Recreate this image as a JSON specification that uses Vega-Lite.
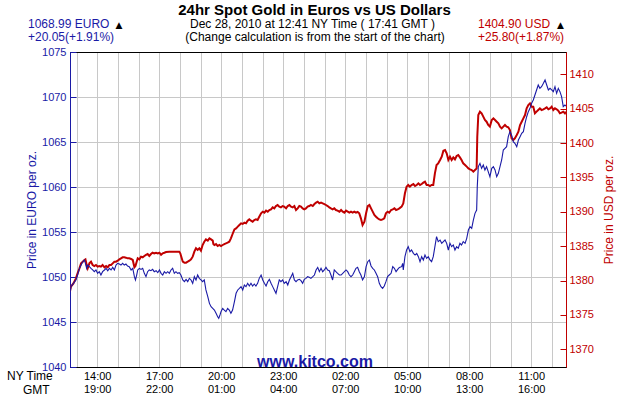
{
  "$schema": "https://vega.github.io/schema/vega-lite/v6.json",
  "width": 496,
  "height": 315,
  "autosize": {"type": "none"},
  "padding": {"left": 70, "top": 52, "right": 64, "bottom": 33},
  "background": "white",
  "config": {"font": "Liberation Sans", "view": {"stroke": "black", "strokeWidth": 1}},
  "datasets": {
    "eur": [
      {"t": 12.68, "price": 1048.2}, {"t": 12.73, "price": 1048.93}, {"t": 12.85, "price": 1049.3}, {"t": 12.97, "price": 1049.67},
      {"t": 13.05, "price": 1050.22}, {"t": 13.14, "price": 1050.96}, {"t": 13.22, "price": 1051.33}, {"t": 13.3, "price": 1051.7},
      {"t": 13.38, "price": 1051.89}, {"t": 13.43, "price": 1051.52}, {"t": 13.49, "price": 1050.96}, {"t": 13.54, "price": 1051.33},
      {"t": 13.62, "price": 1051.15}, {"t": 13.7, "price": 1050.96}, {"t": 13.78, "price": 1050.78}, {"t": 13.86, "price": 1050.59},
      {"t": 13.94, "price": 1050.78}, {"t": 14.02, "price": 1050.41}, {"t": 14.1, "price": 1050.59}, {"t": 14.18, "price": 1050.22},
      {"t": 14.26, "price": 1050.59}, {"t": 14.35, "price": 1050.78}, {"t": 14.43, "price": 1050.96}, {"t": 14.51, "price": 1050.7},
      {"t": 14.59, "price": 1050.96}, {"t": 14.67, "price": 1050.78}, {"t": 14.75, "price": 1051.07}, {"t": 14.83, "price": 1050.78},
      {"t": 14.91, "price": 1051.33}, {"t": 14.99, "price": 1051.52}, {"t": 15.07, "price": 1051.44}, {"t": 15.15, "price": 1051.33},
      {"t": 15.23, "price": 1051.52}, {"t": 15.31, "price": 1051.33}, {"t": 15.39, "price": 1051.44}, {"t": 15.47, "price": 1051.22},
      {"t": 15.55, "price": 1051.15}, {"t": 15.64, "price": 1050.78}, {"t": 15.72, "price": 1050.96}, {"t": 15.8, "price": 1050.04},
      {"t": 15.85, "price": 1049.67}, {"t": 15.91, "price": 1050.22}, {"t": 15.96, "price": 1050.78}, {"t": 16.04, "price": 1050.96},
      {"t": 16.12, "price": 1050.85}, {"t": 16.2, "price": 1050.96}, {"t": 16.28, "price": 1050.41}, {"t": 16.36, "price": 1050.04},
      {"t": 16.44, "price": 1050.59}, {"t": 16.52, "price": 1050.78}, {"t": 16.6, "price": 1050.7}, {"t": 16.68, "price": 1050.85},
      {"t": 16.76, "price": 1050.59}, {"t": 16.85, "price": 1050.7}, {"t": 16.93, "price": 1050.48}, {"t": 17.01, "price": 1050.78},
      {"t": 17.09, "price": 1050.41}, {"t": 17.17, "price": 1050.22}, {"t": 17.25, "price": 1050.59}, {"t": 17.33, "price": 1050.41},
      {"t": 17.41, "price": 1050.59}, {"t": 17.49, "price": 1050.41}, {"t": 17.57, "price": 1050.78}, {"t": 17.65, "price": 1050.96},
      {"t": 17.73, "price": 1050.41}, {"t": 17.81, "price": 1050.59}, {"t": 17.89, "price": 1050.41}, {"t": 17.97, "price": 1050.48},
      {"t": 18.05, "price": 1050.22}, {"t": 18.14, "price": 1049.67}, {"t": 18.22, "price": 1049.48}, {"t": 18.3, "price": 1049.74},
      {"t": 18.38, "price": 1049.48}, {"t": 18.46, "price": 1049.85}, {"t": 18.54, "price": 1049.67}, {"t": 18.62, "price": 1049.3},
      {"t": 18.7, "price": 1050.04}, {"t": 18.78, "price": 1049.67}, {"t": 18.86, "price": 1050.22}, {"t": 18.94, "price": 1049.85},
      {"t": 19.02, "price": 1049.67}, {"t": 19.1, "price": 1049.48}, {"t": 19.18, "price": 1049.67}, {"t": 19.26, "price": 1048.56},
      {"t": 19.35, "price": 1047.81}, {"t": 19.43, "price": 1047.07}, {"t": 19.51, "price": 1046.7}, {"t": 19.59, "price": 1046.52},
      {"t": 19.67, "price": 1046.33}, {"t": 19.75, "price": 1045.96}, {"t": 19.83, "price": 1045.59}, {"t": 19.88, "price": 1045.41},
      {"t": 19.94, "price": 1045.78}, {"t": 19.99, "price": 1046.15}, {"t": 20.07, "price": 1046.52}, {"t": 20.15, "price": 1046.33},
      {"t": 20.23, "price": 1046.15}, {"t": 20.31, "price": 1046.52}, {"t": 20.39, "price": 1046.33}, {"t": 20.47, "price": 1045.96},
      {"t": 20.55, "price": 1046.33}, {"t": 20.64, "price": 1047.26},
      {"t": 20.72, "price": 1048.19}, {"t": 20.8, "price": 1048.56}, {"t": 20.88, "price": 1048.74}, {"t": 20.96, "price": 1048.93},
      {"t": 21.04, "price": 1048.56}, {"t": 21.12, "price": 1049.11}, {"t": 21.2, "price": 1048.93}, {"t": 21.28, "price": 1049.3},
      {"t": 21.36, "price": 1049.0}, {"t": 21.44, "price": 1049.3}, {"t": 21.52, "price": 1049.0}, {"t": 21.6, "price": 1049.22},
      {"t": 21.68, "price": 1049.0}, {"t": 21.76, "price": 1049.3}, {"t": 21.84, "price": 1049.85}, {"t": 21.93, "price": 1050.22},
      {"t": 22.01, "price": 1049.67}, {"t": 22.09, "price": 1049.3}, {"t": 22.17, "price": 1049.0}, {"t": 22.25, "price": 1049.48},
      {"t": 22.33, "price": 1049.74}, {"t": 22.41, "price": 1049.3}, {"t": 22.49, "price": 1048.93}, {"t": 22.57, "price": 1048.56},
      {"t": 22.65, "price": 1048.19}, {"t": 22.73, "price": 1048.93}, {"t": 22.81, "price": 1049.67}, {"t": 22.89, "price": 1049.48},
      {"t": 22.97, "price": 1049.67}, {"t": 23.05, "price": 1049.3}, {"t": 23.14, "price": 1049.48}, {"t": 23.22, "price": 1049.11},
      {"t": 23.3, "price": 1049.67}, {"t": 23.38, "price": 1050.04}, {"t": 23.46, "price": 1050.41}, {"t": 23.54, "price": 1049.67},
      {"t": 23.62, "price": 1049.48}, {"t": 23.7, "price": 1049.67}, {"t": 23.78, "price": 1049.74}, {"t": 23.86, "price": 1049.59},
      {"t": 23.94, "price": 1049.3}, {"t": 24.02, "price": 1049.74}, {"t": 24.1, "price": 1049.85}, {"t": 24.18, "price": 1050.04},
      {"t": 24.26, "price": 1049.96}, {"t": 24.34, "price": 1049.85}, {"t": 24.43, "price": 1050.04}, {"t": 24.51, "price": 1050.22},
      {"t": 24.59, "price": 1050.78}, {"t": 24.67, "price": 1051.07}, {"t": 24.75, "price": 1050.59}, {"t": 24.83, "price": 1050.96},
      {"t": 24.91, "price": 1050.59}, {"t": 24.99, "price": 1050.78}, {"t": 25.07, "price": 1051.07}, {"t": 25.15, "price": 1050.78},
      {"t": 25.23, "price": 1050.7}, {"t": 25.31, "price": 1050.22}, {"t": 25.39, "price": 1049.67}, {"t": 25.47, "price": 1050.78},
      {"t": 25.55, "price": 1050.59}, {"t": 25.63, "price": 1050.41}, {"t": 25.72, "price": 1050.22}, {"t": 25.8, "price": 1050.22},
      {"t": 25.88, "price": 1050.41}, {"t": 25.96, "price": 1050.59}, {"t": 26.04, "price": 1050.78}, {"t": 26.12, "price": 1050.59},
      {"t": 26.2, "price": 1050.22}, {"t": 26.28, "price": 1050.04}, {"t": 26.36, "price": 1050.22}, {"t": 26.44, "price": 1050.59},
      {"t": 26.52, "price": 1050.96}, {"t": 26.6, "price": 1051.07}, {"t": 26.68, "price": 1050.59}, {"t": 26.76, "price": 1050.22},
      {"t": 26.84, "price": 1049.67}, {"t": 26.93, "price": 1050.04}, {"t": 27.01, "price": 1051.15}, {"t": 27.09, "price": 1051.7},
      {"t": 27.17, "price": 1051.89}, {"t": 27.25, "price": 1051.22}, {"t": 27.33, "price": 1050.96}, {"t": 27.41, "price": 1050.78},
      {"t": 27.49, "price": 1050.41}, {"t": 27.57, "price": 1050.04}, {"t": 27.65, "price": 1049.3}, {"t": 27.73, "price": 1048.93},
      {"t": 27.81, "price": 1048.74}, {"t": 27.89, "price": 1049.0}, {"t": 27.97, "price": 1049.48}, {"t": 28.05, "price": 1050.04},
      {"t": 28.13, "price": 1050.22}, {"t": 28.22, "price": 1050.41}, {"t": 28.3, "price": 1051.15}, {"t": 28.38, "price": 1050.96},
      {"t": 28.46, "price": 1050.59}, {"t": 28.54, "price": 1050.85}, {"t": 28.62, "price": 1051.07},
      {"t": 28.73, "price": 1051.15}, {"t": 28.78, "price": 1051.52}, {"t": 28.81, "price": 1050.78}, {"t": 28.89, "price": 1052.26},
      {"t": 28.97, "price": 1053.0}, {"t": 29.05, "price": 1053.37}, {"t": 29.13, "price": 1052.82}, {"t": 29.21, "price": 1053.0},
      {"t": 29.3, "price": 1052.63}, {"t": 29.38, "price": 1052.44}, {"t": 29.46, "price": 1052.63}, {"t": 29.54, "price": 1052.26},
      {"t": 29.62, "price": 1051.7}, {"t": 29.7, "price": 1052.26}, {"t": 29.78, "price": 1051.89}, {"t": 29.86, "price": 1052.44},
      {"t": 29.94, "price": 1052.07}, {"t": 30.02, "price": 1052.26}, {"t": 30.1, "price": 1051.89}, {"t": 30.18, "price": 1051.7},
      {"t": 30.26, "price": 1052.26}, {"t": 30.34, "price": 1053.37}, {"t": 30.42, "price": 1054.48}, {"t": 30.5, "price": 1053.93},
      {"t": 30.59, "price": 1054.11}, {"t": 30.67, "price": 1053.74}, {"t": 30.75, "price": 1053.93}, {"t": 30.83, "price": 1054.11},
      {"t": 30.91, "price": 1053.74}, {"t": 30.99, "price": 1053.0}, {"t": 31.07, "price": 1053.74}, {"t": 31.15, "price": 1053.37},
      {"t": 31.23, "price": 1053.56}, {"t": 31.31, "price": 1053.0}, {"t": 31.39, "price": 1053.37}, {"t": 31.47, "price": 1053.19},
      {"t": 31.55, "price": 1053.74}, {"t": 31.63, "price": 1053.56}, {"t": 31.71, "price": 1053.93}, {"t": 31.8, "price": 1053.74},
      {"t": 31.88, "price": 1054.3}, {"t": 31.96, "price": 1055.22}, {"t": 32.04, "price": 1055.59}, {"t": 32.12, "price": 1055.41},
      {"t": 32.2, "price": 1056.33}, {"t": 32.28, "price": 1057.07}, {"t": 32.36, "price": 1057.44}, {"t": 32.39, "price": 1060.04},
      {"t": 32.44, "price": 1062.26}, {"t": 32.52, "price": 1062.63}, {"t": 32.6, "price": 1062.07}, {"t": 32.68, "price": 1062.44},
      {"t": 32.76, "price": 1061.89}, {"t": 32.84, "price": 1062.26}, {"t": 32.92, "price": 1061.7}, {"t": 33.0, "price": 1061.15},
      {"t": 33.09, "price": 1062.07}, {"t": 33.17, "price": 1062.26}, {"t": 33.25, "price": 1061.89}, {"t": 33.33, "price": 1061.15},
      {"t": 33.41, "price": 1061.52}, {"t": 33.49, "price": 1062.26}, {"t": 33.57, "price": 1063.0}, {"t": 33.65, "price": 1064.11},
      {"t": 33.73, "price": 1064.3}, {"t": 33.81, "price": 1064.48}, {"t": 33.89, "price": 1065.59}, {"t": 33.97, "price": 1066.15},
      {"t": 34.05, "price": 1065.78}, {"t": 34.13, "price": 1065.04}, {"t": 34.21, "price": 1064.85}, {"t": 34.3, "price": 1064.48},
      {"t": 34.38, "price": 1065.22}, {"t": 34.46, "price": 1065.59}, {"t": 34.54, "price": 1065.96}, {"t": 34.62, "price": 1066.15},
      {"t": 34.7, "price": 1067.07}, {"t": 34.78, "price": 1067.81}, {"t": 34.86, "price": 1068.37}, {"t": 34.94, "price": 1068.74},
      {"t": 35.02, "price": 1069.3}, {"t": 35.1, "price": 1069.67}, {"t": 35.18, "price": 1070.22}, {"t": 35.26, "price": 1070.78},
      {"t": 35.34, "price": 1071.33}, {"t": 35.42, "price": 1070.96}, {"t": 35.5, "price": 1071.15}, {"t": 35.59, "price": 1071.52},
      {"t": 35.67, "price": 1071.89}, {"t": 35.75, "price": 1071.33}, {"t": 35.83, "price": 1070.78}, {"t": 35.91, "price": 1070.96},
      {"t": 35.99, "price": 1070.78}, {"t": 36.07, "price": 1070.59}, {"t": 36.15, "price": 1071.15}, {"t": 36.23, "price": 1070.41},
      {"t": 36.31, "price": 1070.96}, {"t": 36.39, "price": 1070.59}, {"t": 36.47, "price": 1070.04}, {"t": 36.55, "price": 1068.93},
      {"t": 36.63, "price": 1069.11}, {"t": 36.68, "price": 1068.99}
    ],
    "usd": [
      {"t": 12.68, "price": 1378.38}, {"t": 12.73, "price": 1379.11}, {"t": 12.85, "price": 1379.59}, {"t": 12.97, "price": 1380.32},
      {"t": 13.05, "price": 1381.05}, {"t": 13.14, "price": 1381.78}, {"t": 13.22, "price": 1382.5}, {"t": 13.3, "price": 1382.74},
      {"t": 13.38, "price": 1382.99}, {"t": 13.43, "price": 1383.08}, {"t": 13.49, "price": 1382.26}, {"t": 13.54, "price": 1381.78},
      {"t": 13.62, "price": 1382.5}, {"t": 13.7, "price": 1382.74}, {"t": 13.78, "price": 1382.26}, {"t": 13.86, "price": 1382.11},
      {"t": 13.94, "price": 1382.26}, {"t": 14.02, "price": 1382.02}, {"t": 14.1, "price": 1382.11}, {"t": 14.18, "price": 1382.02},
      {"t": 14.26, "price": 1382.26}, {"t": 14.35, "price": 1381.92}, {"t": 14.43, "price": 1382.11}, {"t": 14.51, "price": 1381.92},
      {"t": 14.59, "price": 1382.26}, {"t": 14.67, "price": 1382.26}, {"t": 14.75, "price": 1382.5}, {"t": 14.83, "price": 1382.74},
      {"t": 14.91, "price": 1382.74}, {"t": 14.99, "price": 1382.89}, {"t": 15.07, "price": 1383.08}, {"t": 15.15, "price": 1383.23},
      {"t": 15.23, "price": 1383.38}, {"t": 15.31, "price": 1383.38}, {"t": 15.39, "price": 1383.33}, {"t": 15.47, "price": 1383.23},
      {"t": 15.55, "price": 1383.23}, {"t": 15.64, "price": 1383.13}, {"t": 15.72, "price": 1382.99}, {"t": 15.8, "price": 1381.92},
      {"t": 15.85, "price": 1382.11}, {"t": 15.91, "price": 1382.74}, {"t": 15.96, "price": 1383.23}, {"t": 16.04, "price": 1383.08},
      {"t": 16.12, "price": 1383.47}, {"t": 16.2, "price": 1383.38}, {"t": 16.28, "price": 1383.57}, {"t": 16.36, "price": 1383.74},
      {"t": 16.44, "price": 1383.86}, {"t": 16.52, "price": 1383.57}, {"t": 16.6, "price": 1383.86}, {"t": 16.68, "price": 1384.05},
      {"t": 16.76, "price": 1383.96}, {"t": 16.85, "price": 1384.05}, {"t": 16.93, "price": 1383.96}, {"t": 17.01, "price": 1384.05},
      {"t": 17.09, "price": 1383.74}, {"t": 17.17, "price": 1383.96}, {"t": 17.25, "price": 1384.05}, {"t": 17.33, "price": 1384.15},
      {"t": 17.49, "price": 1384.2}, {"t": 17.65, "price": 1384.2}, {"t": 17.81, "price": 1384.2}, {"t": 17.97, "price": 1384.2},
      {"t": 18.02, "price": 1383.96}, {"t": 18.09, "price": 1383.23}, {"t": 18.14, "price": 1382.74}, {"t": 18.22, "price": 1382.6},
      {"t": 18.3, "price": 1382.6}, {"t": 18.38, "price": 1382.74}, {"t": 18.46, "price": 1382.89}, {"t": 18.54, "price": 1383.08},
      {"t": 18.62, "price": 1383.47}, {"t": 18.7, "price": 1384.2}, {"t": 18.78, "price": 1384.69}, {"t": 18.86, "price": 1384.45},
      {"t": 18.94, "price": 1384.69}, {"t": 19.02, "price": 1384.35}, {"t": 19.1, "price": 1385.17}, {"t": 19.18, "price": 1385.65},
      {"t": 19.26, "price": 1385.99}, {"t": 19.35, "price": 1385.8}, {"t": 19.43, "price": 1386.14}, {"t": 19.51, "price": 1385.99},
      {"t": 19.59, "price": 1385.8}, {"t": 19.62, "price": 1385.31}, {"t": 19.67, "price": 1385.17}, {"t": 19.75, "price": 1385.31},
      {"t": 19.83, "price": 1385.02}, {"t": 19.91, "price": 1385.17}, {"t": 19.99, "price": 1385.02}, {"t": 20.07, "price": 1385.17},
      {"t": 20.15, "price": 1385.31}, {"t": 20.23, "price": 1385.41}, {"t": 20.31, "price": 1385.51}, {"t": 20.39, "price": 1385.65},
      {"t": 20.47, "price": 1386.14}, {"t": 20.55, "price": 1386.77}, {"t": 20.64, "price": 1387.45},
      {"t": 20.72, "price": 1387.59}, {"t": 20.8, "price": 1387.84}, {"t": 20.88, "price": 1388.08}, {"t": 20.96, "price": 1388.32},
      {"t": 21.04, "price": 1388.23}, {"t": 21.12, "price": 1388.42}, {"t": 21.2, "price": 1388.32}, {"t": 21.28, "price": 1388.71},
      {"t": 21.36, "price": 1388.9}, {"t": 21.44, "price": 1388.71}, {"t": 21.52, "price": 1388.56}, {"t": 21.6, "price": 1388.81},
      {"t": 21.68, "price": 1388.9}, {"t": 21.76, "price": 1388.81}, {"t": 21.84, "price": 1389.29}, {"t": 21.93, "price": 1389.78},
      {"t": 22.01, "price": 1390.02}, {"t": 22.09, "price": 1389.87}, {"t": 22.17, "price": 1390.17}, {"t": 22.25, "price": 1390.02},
      {"t": 22.33, "price": 1390.26}, {"t": 22.41, "price": 1390.36}, {"t": 22.49, "price": 1390.65}, {"t": 22.57, "price": 1390.5},
      {"t": 22.65, "price": 1390.84}, {"t": 22.73, "price": 1390.99}, {"t": 22.81, "price": 1390.75}, {"t": 22.89, "price": 1390.65},
      {"t": 22.97, "price": 1390.84}, {"t": 23.05, "price": 1390.75}, {"t": 23.14, "price": 1390.5}, {"t": 23.22, "price": 1390.84},
      {"t": 23.3, "price": 1390.99}, {"t": 23.38, "price": 1390.75}, {"t": 23.46, "price": 1390.65}, {"t": 23.54, "price": 1390.84},
      {"t": 23.62, "price": 1390.26}, {"t": 23.7, "price": 1390.5}, {"t": 23.78, "price": 1390.84}, {"t": 23.86, "price": 1390.75},
      {"t": 23.94, "price": 1390.5}, {"t": 24.02, "price": 1390.36}, {"t": 24.1, "price": 1390.5}, {"t": 24.18, "price": 1390.75},
      {"t": 24.26, "price": 1390.84}, {"t": 24.34, "price": 1390.99}, {"t": 24.43, "price": 1390.84}, {"t": 24.51, "price": 1391.13},
      {"t": 24.59, "price": 1391.33}, {"t": 24.67, "price": 1391.47}, {"t": 24.75, "price": 1391.23}, {"t": 24.83, "price": 1391.33},
      {"t": 24.91, "price": 1391.23}, {"t": 24.99, "price": 1391.13}, {"t": 25.07, "price": 1390.99}, {"t": 25.15, "price": 1390.84},
      {"t": 25.23, "price": 1390.65}, {"t": 25.31, "price": 1390.5}, {"t": 25.39, "price": 1390.36}, {"t": 25.47, "price": 1390.5},
      {"t": 25.55, "price": 1390.26}, {"t": 25.63, "price": 1390.17}, {"t": 25.72, "price": 1390.02}, {"t": 25.8, "price": 1390.26},
      {"t": 25.88, "price": 1390.02}, {"t": 25.96, "price": 1389.87}, {"t": 26.04, "price": 1390.17}, {"t": 26.12, "price": 1390.02},
      {"t": 26.2, "price": 1389.87}, {"t": 26.28, "price": 1390.02}, {"t": 26.36, "price": 1389.87}, {"t": 26.44, "price": 1390.02},
      {"t": 26.52, "price": 1389.87}, {"t": 26.6, "price": 1389.97}, {"t": 26.68, "price": 1389.78}, {"t": 26.76, "price": 1389.05},
      {"t": 26.84, "price": 1388.08}, {"t": 26.93, "price": 1388.56}, {"t": 27.01, "price": 1389.78}, {"t": 27.09, "price": 1390.84},
      {"t": 27.17, "price": 1390.99}, {"t": 27.25, "price": 1390.5}, {"t": 27.33, "price": 1390.02}, {"t": 27.41, "price": 1389.53},
      {"t": 27.49, "price": 1389.29}, {"t": 27.57, "price": 1389.05}, {"t": 27.65, "price": 1388.9}, {"t": 27.73, "price": 1388.81},
      {"t": 27.81, "price": 1388.9}, {"t": 27.89, "price": 1389.05}, {"t": 27.97, "price": 1389.78}, {"t": 28.05, "price": 1390.02},
      {"t": 28.13, "price": 1389.87}, {"t": 28.22, "price": 1390.26}, {"t": 28.3, "price": 1390.36}, {"t": 28.38, "price": 1390.5},
      {"t": 28.46, "price": 1390.26}, {"t": 28.54, "price": 1390.36}, {"t": 28.62, "price": 1390.5},
      {"t": 28.73, "price": 1390.75}, {"t": 28.81, "price": 1391.23}, {"t": 28.89, "price": 1392.69}, {"t": 28.97, "price": 1393.66},
      {"t": 29.05, "price": 1393.9}, {"t": 29.13, "price": 1393.66}, {"t": 29.21, "price": 1393.9}, {"t": 29.3, "price": 1394.04},
      {"t": 29.38, "price": 1393.75}, {"t": 29.46, "price": 1393.9}, {"t": 29.54, "price": 1394.14}, {"t": 29.62, "price": 1393.9},
      {"t": 29.7, "price": 1394.04}, {"t": 29.78, "price": 1394.24}, {"t": 29.86, "price": 1394.38}, {"t": 29.94, "price": 1393.9},
      {"t": 30.02, "price": 1393.9}, {"t": 30.1, "price": 1393.75}, {"t": 30.18, "price": 1393.9}, {"t": 30.26, "price": 1393.9},
      {"t": 30.34, "price": 1395.6}, {"t": 30.42, "price": 1396.81}, {"t": 30.5, "price": 1397.05}, {"t": 30.59, "price": 1397.54},
      {"t": 30.67, "price": 1398.02}, {"t": 30.75, "price": 1398.89}, {"t": 30.83, "price": 1398.99}, {"t": 30.91, "price": 1398.51},
      {"t": 30.99, "price": 1397.54}, {"t": 31.07, "price": 1398.02}, {"t": 31.15, "price": 1397.54}, {"t": 31.23, "price": 1397.92},
      {"t": 31.31, "price": 1397.63}, {"t": 31.39, "price": 1398.12}, {"t": 31.47, "price": 1398.26}, {"t": 31.55, "price": 1397.92},
      {"t": 31.63, "price": 1397.54}, {"t": 31.71, "price": 1397.05}, {"t": 31.8, "price": 1396.81}, {"t": 31.88, "price": 1396.57},
      {"t": 31.96, "price": 1396.32}, {"t": 32.04, "price": 1396.18}, {"t": 32.12, "price": 1396.08}, {"t": 32.2, "price": 1395.84},
      {"t": 32.28, "price": 1396.08}, {"t": 32.36, "price": 1396.32}, {"t": 32.39, "price": 1400.93}, {"t": 32.44, "price": 1404.08},
      {"t": 32.52, "price": 1404.57}, {"t": 32.6, "price": 1404.33}, {"t": 32.68, "price": 1403.84}, {"t": 32.76, "price": 1403.36},
      {"t": 32.84, "price": 1403.11}, {"t": 32.92, "price": 1402.63}, {"t": 33.0, "price": 1402.39}, {"t": 33.09, "price": 1403.36},
      {"t": 33.17, "price": 1403.6}, {"t": 33.25, "price": 1403.36}, {"t": 33.33, "price": 1403.11}, {"t": 33.41, "price": 1402.87},
      {"t": 33.49, "price": 1402.39}, {"t": 33.57, "price": 1402.14}, {"t": 33.65, "price": 1402.39}, {"t": 33.73, "price": 1402.63},
      {"t": 33.81, "price": 1402.39}, {"t": 33.89, "price": 1402.29}, {"t": 33.97, "price": 1401.9}, {"t": 34.05, "price": 1400.69},
      {"t": 34.13, "price": 1400.45}, {"t": 34.21, "price": 1400.69}, {"t": 34.3, "price": 1401.17}, {"t": 34.38, "price": 1401.66},
      {"t": 34.46, "price": 1402.63}, {"t": 34.54, "price": 1403.11}, {"t": 34.62, "price": 1403.6}, {"t": 34.7, "price": 1404.08},
      {"t": 34.78, "price": 1405.05}, {"t": 34.86, "price": 1405.54}, {"t": 34.94, "price": 1405.78}, {"t": 35.02, "price": 1405.3},
      {"t": 35.1, "price": 1405.3}, {"t": 35.18, "price": 1404.33}, {"t": 35.26, "price": 1404.57}, {"t": 35.34, "price": 1404.81},
      {"t": 35.42, "price": 1405.05}, {"t": 35.5, "price": 1404.81}, {"t": 35.59, "price": 1404.91}, {"t": 35.67, "price": 1405.05},
      {"t": 35.75, "price": 1405.2}, {"t": 35.83, "price": 1404.91}, {"t": 35.91, "price": 1405.05}, {"t": 35.99, "price": 1405.3},
      {"t": 36.07, "price": 1404.81}, {"t": 36.15, "price": 1405.05}, {"t": 36.23, "price": 1404.91}, {"t": 36.31, "price": 1404.72},
      {"t": 36.39, "price": 1404.33}, {"t": 36.47, "price": 1404.42}, {"t": 36.55, "price": 1404.57}, {"t": 36.63, "price": 1404.33},
      {"t": 36.68, "price": 1404.57}
    ]
  },
  "layer": [
    {
      "data": {"name": "usd"},
      "mark": {"type": "line", "color": "#c00000", "strokeWidth": 2, "clip": true},
      "encoding": {
        "x": {
          "field": "t", "type": "quantitative",
          "scale": {"domain": [12.6833, 36.6833], "nice": false, "zero": false},
          "axis": {
            "values": [13, 14, 15, 16, 17, 18, 19, 20, 21, 22, 23, 24, 25, 26, 27, 28, 29, 30, 31, 32, 33, 34, 35, 36],
            "grid": true, "gridColor": "#c8c8c8", "gridWidth": 1,
            "ticks": false, "domainColor": "black", "domainWidth": 1,
            "labelExpr": "datum.value % 3 == 2 ? [(datum.value % 24 < 10 ? '0' : '') + (datum.value % 24) + ':00', ((datum.value + 5) % 24 < 10 ? '0' : '') + ((datum.value + 5) % 24) + ':00'] : ''",
            "labelFont": "Liberation Sans", "labelFontSize": 11, "labelColor": "black",
            "labelLineHeight": 13.5, "labelBaseline": "top", "labelPadding": 3,
            "labelOverlap": false, "labelFlush": false, "title": null
          }
        },
        "y": {
          "field": "price", "type": "quantitative",
          "scale": {"domain": [1367.42, 1413.25], "nice": false, "zero": false},
          "axis": {
            "orient": "right",
            "values": [1370, 1375, 1380, 1385, 1390, 1395, 1400, 1405, 1410],
            "format": "d",
            "grid": false,
            "domainColor": "#c00000", "domainWidth": 1,
            "tickColor": "#c00000", "tickSize": -6, "tickWidth": 1,
            "labelColor": "#c00000", "labelFont": "Liberation Sans", "labelFontSize": 11, "labelPadding": 9,
            "title": "Price in USD per oz.", "titleColor": "#c00000", "titleFont": "Liberation Sans",
            "titleFontSize": 12, "titleFontWeight": "normal", "titleAngle": 270, "titlePadding": 22
          }
        }
      }
    },
    {
      "data": {"name": "eur"},
      "mark": {"type": "line", "color": "#1a1aa6", "strokeWidth": 1.1, "clip": true},
      "encoding": {
        "x": {
          "field": "t", "type": "quantitative",
          "scale": {"domain": [12.6833, 36.6833], "nice": false, "zero": false},
          "axis": {
            "values": [13, 14, 15, 16, 17, 18, 19, 20, 21, 22, 23, 24, 25, 26, 27, 28, 29, 30, 31, 32, 33, 34, 35, 36],
            "grid": true, "gridColor": "#c8c8c8", "gridWidth": 1,
            "ticks": false, "domainColor": "black", "domainWidth": 1,
            "labelExpr": "datum.value % 3 == 2 ? [(datum.value % 24 < 10 ? '0' : '') + (datum.value % 24) + ':00', ((datum.value + 5) % 24 < 10 ? '0' : '') + ((datum.value + 5) % 24) + ':00'] : ''",
            "labelFont": "Liberation Sans", "labelFontSize": 11, "labelColor": "black",
            "labelLineHeight": 13.5, "labelBaseline": "top", "labelPadding": 3,
            "labelOverlap": false, "labelFlush": false, "title": null
          }
        },
        "y": {
          "field": "price", "type": "quantitative",
          "scale": {"domain": [1040, 1075], "nice": false, "zero": false},
          "axis": {
            "orient": "left",
            "values": [1040, 1045, 1050, 1055, 1060, 1065, 1070, 1075],
            "format": "d",
            "grid": true,
            "gridColor": {"condition": {"test": "datum.value == 1075 || datum.value == 1040", "value": "black"}, "value": "#c8c8c8"},
            "gridWidth": 1,
            "domainColor": "#1a1aa6", "domainWidth": 1,
            "tickColor": "#1a1aa6", "tickSize": -6, "tickWidth": 1,
            "labelColor": "#1a1aa6", "labelFont": "Liberation Sans", "labelFontSize": 11, "labelPadding": 10,
            "title": "Price in EURO per oz.", "titleColor": "#1a1aa6", "titleFont": "Liberation Sans",
            "titleFontSize": 12, "titleFontWeight": "normal", "titlePadding": 3
          }
        }
      }
    },
    {
      "data": {"values": [{"label": "24hr Spot Gold in Euros vs US Dollars"}]},
      "mark": {"type": "text", "align": "center", "baseline": "alphabetic", "font": "Liberation Sans", "fontSize": 15, "fontWeight": "bold", "color": "black"},
      "encoding": {"text": {"field": "label"}, "x": {"value": 244.5}, "y": {"value": -37}}
    },
    {
      "data": {"values": [{"label": "Dec 28, 2010 at 12:41 NY Time ( 17:41 GMT )"}]},
      "mark": {"type": "text", "align": "center", "baseline": "alphabetic", "font": "Liberation Sans", "fontSize": 12, "color": "black"},
      "encoding": {"text": {"field": "label"}, "x": {"value": 242.5}, "y": {"value": -23.7}}
    },
    {
      "data": {"values": [{"label": "(Change calculation is from the start of the chart)"}]},
      "mark": {"type": "text", "align": "center", "baseline": "alphabetic", "font": "Liberation Sans", "fontSize": 12, "color": "black"},
      "encoding": {"text": {"field": "label"}, "x": {"value": 245}, "y": {"value": -11.3}}
    },
    {
      "data": {"values": [{"label": "1068.99 EURO"}]},
      "mark": {"type": "text", "align": "left", "baseline": "alphabetic", "font": "Liberation Sans", "fontSize": 12, "color": "#1a1aa6"},
      "encoding": {"text": {"field": "label"}, "x": {"value": -42}, "y": {"value": -23.7}}
    },
    {
      "data": {"values": [{"label": "+20.05(+1.91%)"}]},
      "mark": {"type": "text", "align": "left", "baseline": "alphabetic", "font": "Liberation Sans", "fontSize": 12, "color": "#1a1aa6"},
      "encoding": {"text": {"field": "label"}, "x": {"value": -42}, "y": {"value": -11.3}}
    },
    {
      "data": {"values": [{"label": "1404.90 USD"}]},
      "mark": {"type": "text", "align": "left", "baseline": "alphabetic", "font": "Liberation Sans", "fontSize": 12, "color": "#c00000"},
      "encoding": {"text": {"field": "label"}, "x": {"value": 408}, "y": {"value": -23.7}}
    },
    {
      "data": {"values": [{"label": "+25.80(+1.87%)"}]},
      "mark": {"type": "text", "align": "left", "baseline": "alphabetic", "font": "Liberation Sans", "fontSize": 12, "color": "#c00000"},
      "encoding": {"text": {"field": "label"}, "x": {"value": 408}, "y": {"value": -11.3}}
    },
    {
      "data": {"values": [{"label": "▲"}]},
      "mark": {"type": "text", "align": "center", "baseline": "alphabetic", "font": "DejaVu Sans", "fontSize": 9, "color": "black"},
      "encoding": {"text": {"field": "label"}, "x": {"value": 49}, "y": {"value": -24}}
    },
    {
      "data": {"values": [{"label": "▲"}]},
      "mark": {"type": "text", "align": "center", "baseline": "alphabetic", "font": "DejaVu Sans", "fontSize": 9, "color": "black"},
      "encoding": {"text": {"field": "label"}, "x": {"value": 490.5}, "y": {"value": -24}}
    },
    {
      "data": {"values": [{"label": "www.kitco.com"}]},
      "mark": {"type": "text", "align": "center", "baseline": "alphabetic", "font": "Liberation Sans", "fontSize": 16, "fontWeight": "bold", "color": "#1a1aa6"},
      "encoding": {"text": {"field": "label"}, "x": {"value": 245}, "y": {"value": 314.7}}
    },
    {
      "data": {"values": [{"label": "NY Time"}]},
      "mark": {"type": "text", "align": "left", "baseline": "alphabetic", "font": "Liberation Sans", "fontSize": 12, "color": "black"},
      "encoding": {"text": {"field": "label"}, "x": {"value": -63}, "y": {"value": 328}}
    },
    {
      "data": {"values": [{"label": "GMT"}]},
      "mark": {"type": "text", "align": "left", "baseline": "alphabetic", "font": "Liberation Sans", "fontSize": 12, "color": "black"},
      "encoding": {"text": {"field": "label"}, "x": {"value": -47}, "y": {"value": 341.5}}
    }
  ],
  "resolve": {"scale": {"y": "independent"}}
}
